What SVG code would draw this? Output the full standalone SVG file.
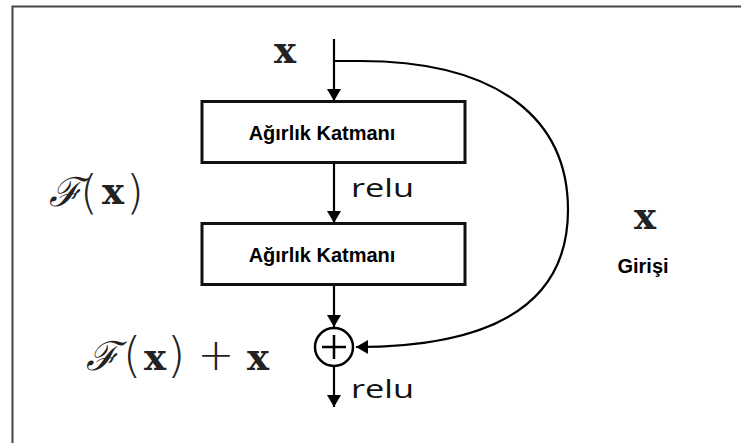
<svg xmlns="http://www.w3.org/2000/svg" width="741" height="443" viewBox="0 0 741 443">
  <defs>
    <marker id="arrow" viewBox="0 0 12 14" refX="12" refY="7" markerWidth="12" markerHeight="14" markerUnits="userSpaceOnUse" orient="auto">
      <path d="M0,0 L12,7 L0,14 Z" fill="#000"/>
    </marker>
    <style>
      .frame { fill: none; stroke: #444; stroke-width: 2; }
      .box { fill: #fff; stroke: #111; stroke-width: 3; }
      .line { fill: none; stroke: #000; stroke-width: 2.2; }
      .lbl { font-family: "Liberation Sans", Arial, sans-serif; font-weight: bold; font-size: 20px; fill: #000; text-anchor: middle; }
      .relu { font-family: "Open Sans", "Liberation Sans", sans-serif; font-size: 26px; fill: #111; }
      .cal { font-family: "DejaVu Serif", serif; font-style: italic; fill: #222; text-anchor: middle; }
      .par { font-family: "DejaVu Sans", sans-serif; font-weight: 200; fill: #222; text-anchor: middle; }
      .mx { font-family: "DejaVu Serif", "Liberation Serif", serif; font-weight: bold; font-size: 37px; fill: #222; text-anchor: middle; }
    </style>
  </defs>
  <rect width="741" height="443" fill="#fff"/>

  <!-- outer frame (top and left edges) -->
  <path class="frame" d="M12.5,443 V6.5 H741"/>

  <!-- connectors -->
  <g id="connectors">
    <line class="line" x1="334" y1="39" x2="334" y2="101" marker-end="url(#arrow)"/>
    <line class="line" x1="334" y1="163" x2="334" y2="223" marker-end="url(#arrow)"/>
    <line class="line" x1="334" y1="285" x2="334" y2="327" marker-end="url(#arrow)"/>
    <line class="line" x1="334" y1="367" x2="334" y2="407" marker-end="url(#arrow)"/>
    <path class="line" d="M334,61 H360 C500,61 568,120 568,210 C568,300 500,347 356,347" marker-end="url(#arrow)"/>
  </g>

  <g id="layer1">
    <rect class="box" x="202" y="101.5" width="263" height="61"/>
    <text class="lbl" x="322" y="140">Ağırlık Katmanı</text>
  </g>

  <g id="layer2">
    <rect class="box" x="202" y="223.5" width="263" height="61"/>
    <text class="lbl" x="322" y="262">Ağırlık Katmanı</text>
  </g>

  <g id="sum">
    <circle cx="334" cy="347" r="19" fill="#fff" stroke="#000" stroke-width="2.5"/>
    <path d="M334,335 V359 M322,347 H346" stroke="#000" stroke-width="2.5"/>
  </g>

  <g id="labels">
    <!-- input x -->
    <text class="mx" x="285" y="63">x</text>

    <!-- relu labels -->
    <text class="relu" x="351" y="197" textLength="63" lengthAdjust="spacingAndGlyphs">relu</text>
    <text class="relu" x="351" y="398" textLength="63" lengthAdjust="spacingAndGlyphs">relu</text>

    <!-- F(x) -->
    <text class="cal" x="65" y="206" font-size="40">ℱ</text>
    <text class="par" x="89" y="208" font-size="46">(</text>
    <text class="mx" x="113" y="204">x</text>
    <text class="par" x="135" y="208" font-size="46">)</text>

    <!-- F(x) + x -->
    <text class="cal" x="102" y="370" font-size="40">ℱ</text>
    <text class="par" x="132" y="372" font-size="48">(</text>
    <text class="mx" x="155" y="370">x</text>
    <text class="par" x="176" y="372" font-size="48">)</text>
    <text class="par" x="216" y="370" font-size="44">+</text>
    <text class="mx" x="258" y="370">x</text>

    <!-- shortcut label -->
    <text class="mx" x="645" y="229">x</text>
    <text class="lbl" x="643" y="273">Girişi</text>
  </g>
</svg>
